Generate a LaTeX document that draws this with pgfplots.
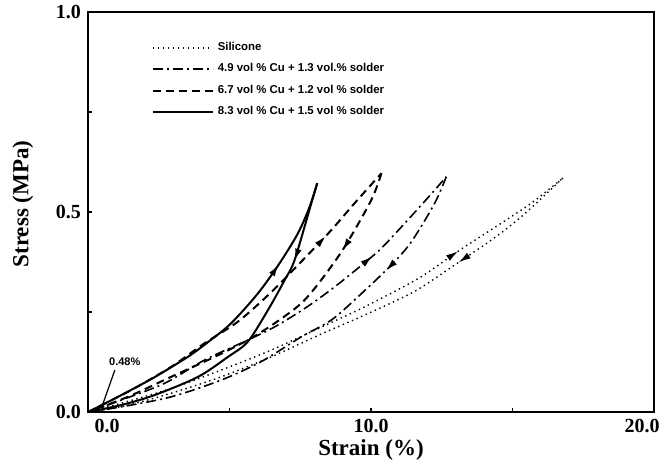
\documentclass[border=0pt]{standalone}
\usepackage{fontspec}
\setmainfont{Liberation Serif}
\newfontfamily\legfont{Liberation Sans}
\usepackage{pgfplots}
\pgfplotsset{compat=1.18}
\usetikzlibrary{decorations.markings,arrows.meta}

\tikzset{
  sil/.style={black, line width=0.7pt, dash pattern=on 0.7pt off 1.8pt},
  cuA/.style={black, line width=0.8pt, dash pattern=on 5pt off 2pt on 1pt off 2pt},
  cuB/.style={black, line width=1pt, dash pattern=on 4pt off 2.5pt},
  cuC/.style={black, line width=1pt},
  arr/.style={postaction={decorate}, decoration={markings,
      mark=at position #1 with {\arrow{Latex[length=6pt,width=3.4pt]}}}}
}

\begin{document}
\begin{tikzpicture}
\begin{axis}[
    scale only axis,
    width=283pt, height=200pt,
    xmin=0, xmax=20, ymin=0, ymax=1,
    xtick={0,5,10,15,20},
    xticklabels={\hspace*{19pt}0.0,,10.0,,20.0\hspace*{12pt}},
    ytick={0,0.25,0.5,0.75,1},
    yticklabels={0.0,,0.5,,1.0},
    tick pos=left, tick align=inside,
    major tick length=2pt,
    tick style={black, line width=0.8pt},
    axis line style={line width=1.2pt},
    /pgf/number format/assume math mode=true,
    tick label style={font=\bfseries\fontsize{10}{12}\selectfont},
    xlabel={Strain (\%)},
    ylabel={Stress (MPa)},
    label style={font=\bfseries\fontsize{11.5}{13}\selectfont},
    xlabel style={at={(rel axis cs:0.5,-0.095)}, anchor=center},
    ylabel style={at={(rel axis cs:-0.115,0.52)}, anchor=center},
    legend style={at={(rel axis cs:0.112,0.935)}, anchor=north west,
        draw=none, fill=none, inner sep=0pt, row sep=1pt,
        font=\legfont\bfseries\fontsize{5.7}{6.5}\selectfont},
    legend cell align=left,
    legend image code/.code={\draw[#1] (0pt,0pt) -- (30pt,0pt);},
  ]
\coordinate (sw) at (rel axis cs:0,0);
\coordinate (ne) at (rel axis cs:1,1);

% legend entries
\addlegendimage{sil}
\addlegendentry{Silicone}
\addlegendimage{cuA}
\addlegendentry{4.9 vol \% Cu + 1.3 vol.\% solder}
\addlegendimage{cuB}
\addlegendentry{6.7 vol \% Cu + 1.2 vol \% solder}
\addlegendimage{cuC}
\addlegendentry{8.3 vol \% Cu + 1.5 vol \% solder}

% silicone
\addplot[sil, smooth, arr=0.76, forget plot] coordinates {
  (0,0) (1.18,0.022) (2.94,0.059) (4.71,0.105) (6.48,0.155) (8.48,0.22)
  (9.78,0.263) (11.7,0.335) (13.14,0.405) (14.56,0.47) (15.72,0.525) (16.78,0.585)};
\addplot[sil, smooth, arr=0.25, forget plot] coordinates {
  (16.78,0.585) (15.5,0.50) (14.45,0.44) (12.8,0.36) (11.5,0.30) (9.7,0.24)
  (8.24,0.195) (6.48,0.138) (4.71,0.088) (2.94,0.047) (1.18,0.013) (0,0)};

% 4.9 vol% Cu
\addplot[cuA, smooth, arr=0.75, forget plot] coordinates {
  (0,0) (1.18,0.03) (2.71,0.072) (4.12,0.13) (5.65,0.18) (6.60,0.213)
  (7.66,0.259) (8.72,0.313) (9.89,0.38) (10.48,0.4175) (11.78,0.5175) (12.66,0.588)};
\addplot[cuA, smooth, arr=0.25, forget plot] coordinates {
  (12.66,0.588) (12.25,0.522) (11.43,0.426) (10.72,0.3675) (9.54,0.288)
  (8.60,0.23) (7.54,0.188) (6.12,0.126) (4.71,0.08) (2.94,0.038) (1.18,0.013) (0,0)};

% 6.7 vol% Cu
\addplot[cuB, smooth, arr=0.78, forget plot] coordinates {
  (0,0) (1.53,0.055) (2.94,0.113) (4.12,0.172) (5.30,0.226) (6.48,0.30)
  (7.66,0.385) (8.60,0.455) (9.42,0.522) (10.37,0.597)};
\addplot[cuB, smooth, arr=0.22, forget plot] coordinates {
  (10.37,0.597) (10.01,0.53) (9.07,0.413) (8.24,0.33) (7.54,0.272)
  (6.60,0.222) (5.65,0.18) (4.48,0.138) (2.94,0.088) (1.41,0.038) (0,0)};

% 8.3 vol% Cu
\addplot[cuC, smooth, arr=0.73, forget plot] coordinates {
  (0,0) (1.06,0.038) (2.3,0.085) (3.53,0.138) (4.3,0.178) (5.06,0.222)
  (6.01,0.297) (6.77,0.372) (7.42,0.447) (7.83,0.513) (8.10,0.572)};
\addplot[cuC, smooth, arr=0.23, forget plot] coordinates {
  (8.10,0.572) (7.89,0.5217) (7.30,0.38) (6.95,0.33) (6.36,0.255) (5.65,0.176)
  (4.95,0.138) (3.89,0.088) (2.36,0.0425) (1.18,0.0175) (0,0)};

% annotation
\node[font=\legfont\bfseries\fontsize{5.5}{6}\selectfont] at (axis cs:1.3,0.125) {0.48\%};
\draw[line width=0.6pt] (axis cs:0.95,0.105) -- (axis cs:0.5,0.015);
\end{axis}
\pgfresetboundingbox
\path ([xshift=-44pt,yshift=-30.5pt]sw) rectangle ([xshift=4pt,yshift=6pt]ne);
\end{tikzpicture}
\end{document}
